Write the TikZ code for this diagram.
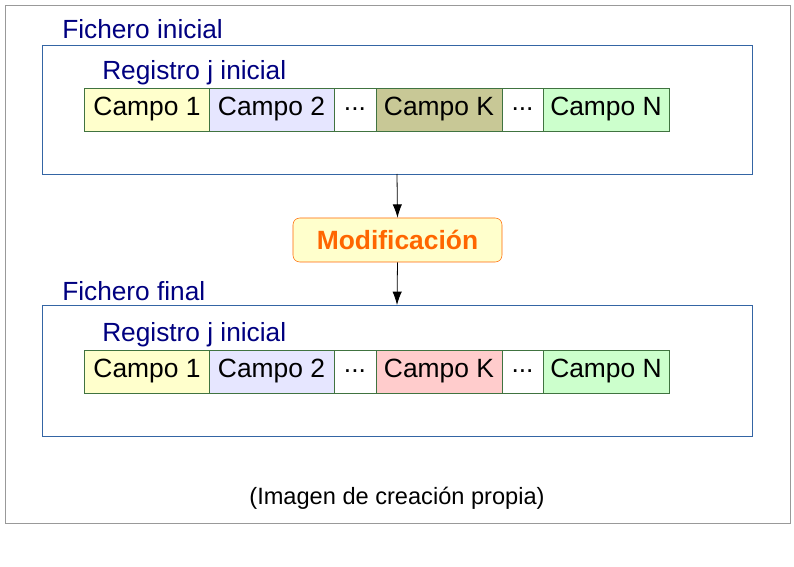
\documentclass[tikz,border=0pt]{standalone}
\usepackage{fontspec}
\setmainfont{Liberation Sans}
\usetikzlibrary{arrows.meta}
\definecolor{navy}{HTML}{000080}
\definecolor{bblue}{HTML}{3465A4}
\definecolor{cA}{HTML}{FFFFCC}
\definecolor{cB}{HTML}{E6E6FF}
\definecolor{cK}{HTML}{C8C896}
\definecolor{cK2}{HTML}{FFCCCC}
\definecolor{cN}{HTML}{CCFFCC}
\definecolor{orng}{HTML}{FF6600}
\tikzset{
 file/.style={draw=bblue,line width=0.6pt},
 title/.style={anchor=west,text=navy,font=\fontsize{19.7}{20}\selectfont,inner sep=0},
 field/.style={draw=black!60!green!50!gray,line width=0.5pt,minimum height=32.25pt,inner sep=0,font=\fontsize{19.8}{20}\selectfont},
 arr/.style={-{Latex[length=10pt,width=7pt]},line width=0.6pt}
}
\begin{document}
\begin{tikzpicture}[x=0.75pt,y=-0.75pt]
\useasboundingbox (0,0) rectangle (794,567);
\draw[draw=black!40] (5,5) rectangle (790,523);
\draw[file] (42,45) rectangle (752,174);
\node[title] at (62,29) {Fichero inicial};
\node[title] at (102,73) {Registro j inicial};
\node[field,fill=cA,minimum width=93.75pt] (a1) at (147,109.5) {Campo 1};
\node[field,fill=cB,minimum width=93.75pt] (a2) at (271.5,109.5) {Campo 2};
\node[field,fill=white,minimum width=31.5pt] (a3) at (355,109.5) {...};
\node[field,fill=cK,minimum width=94.5pt] (a4) at (439,109.5) {Campo K};
\node[field,fill=white,minimum width=30.75pt] (a5) at (522.5,109.5) {...};
\node[field,fill=cN,minimum width=94.5pt] (a6) at (606,109.5) {Campo N};
\coordinate (t1) at (397,174);
\node[draw=orng,fill=cA,rounded corners=5pt,minimum width=156.75pt,minimum height=33pt,text=orng,font=\bfseries\fontsize{19.8}{20}\selectfont] (m) at (397.5,240) {Modificación};
\draw[file] (42,305) rectangle (752,436);
\coordinate (t2) at (397,305);
\node[title] at (62,291) {Fichero final};
\node[title] at (102,335) {Registro j inicial};
\node[field,fill=cA,minimum width=93.75pt] (b1) at (147,371.5) {Campo 1};
\node[field,fill=cB,minimum width=93.75pt] (b2) at (271.5,371.5) {Campo 2};
\node[field,fill=white,minimum width=31.5pt] (b3) at (355,371.5) {...};
\node[field,fill=cK2,minimum width=94.5pt] (b4) at (439,371.5) {Campo K};
\node[field,fill=white,minimum width=30.75pt] (b5) at (522.5,371.5) {...};
\node[field,fill=cN,minimum width=94.5pt] (b6) at (606,371.5) {Campo N};
\draw[arr] (t1) -- (m.north);
\draw[arr] (m.south) -- (t2);
\node[font=\fontsize{17.7}{18}\selectfont] (cap) at (397,498) {(Imagen de creación propia)};
\end{tikzpicture}
\end{document}
